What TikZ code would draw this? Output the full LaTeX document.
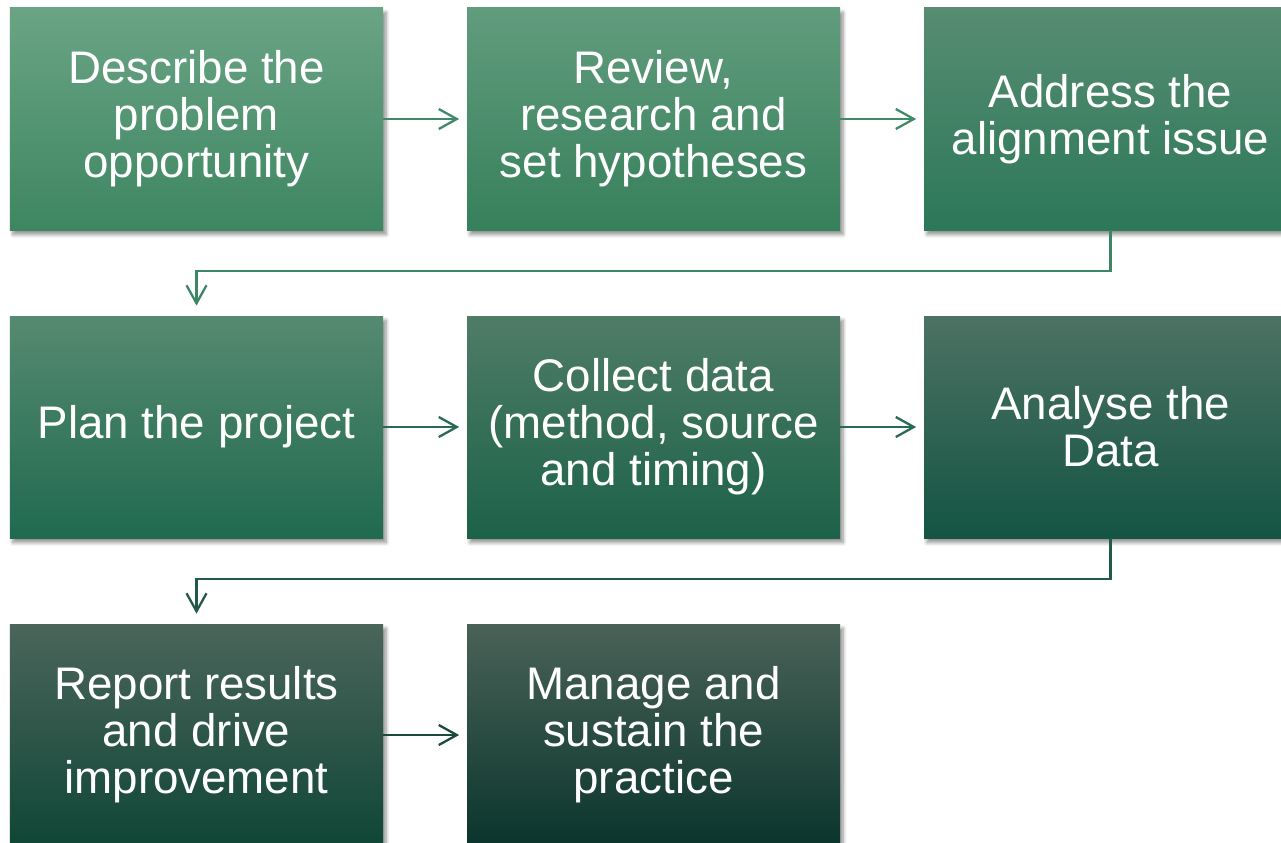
\documentclass[tikz,border=0pt]{standalone}
\usepackage{fontspec}
\setmainfont{Liberation Sans}
\usetikzlibrary{arrows.meta,shadows.blur}

\definecolor{lineA}{HTML}{3F8A68}
\definecolor{lineB}{HTML}{2A6A52}
\definecolor{lineC}{HTML}{1A4A3C}

\tikzset{
	stepbox/.style n args={3}{rectangle, minimum width=7.46cm, minimum height=4.44cm,
		inner sep=0pt, align=center, text=white, font=\fontsize{26}{26.8}\selectfont,
		/utils/exec={\definecolor{boxtop}{HTML}{#1}\definecolor{boxmid}{HTML}{#2}\definecolor{boxbot}{HTML}{#3}},
		top color=boxtop, middle color=boxmid, bottom color=boxbot,
		blur shadow={shadow xshift=0.06cm, shadow yshift=-0.09cm, shadow opacity=45, shadow blur steps=6}},
	flow/.style={line width=1.3pt, -{Straight Barb[length=0.36cm,width=0.4cm]}, shorten >=0.15cm},
}

\begin{document}
\begin{tikzpicture}
	\useasboundingbox (0,0) rectangle (25.62,-16.86);
	% first row
	\node[stepbox={6AA485}{4F9271}{3E8662}] (A) at (3.93,-2.38) {Describe the\\problem\\opportunity};
	\node[stepbox={619C7D}{48896A}{37805C}] (B) at (13.07,-2.38) {Review,\\research and\\set hypotheses};
	\node[stepbox={578C72}{3B8063}{2C7858}] (C) at (22.21,-2.38) {Address the\\alignment issue};
	% second row
	\node[stepbox={558A70}{2E7559}{206A50}] (D) at (3.93,-8.54) {Plan the project};
	\node[stepbox={4F7C67}{256A50}{1C6249}] (E) at (13.07,-8.54) {Collect data\\(method, source\\and timing)};
	\node[stepbox={4C7263}{1C5C48}{145443}] (F) at (22.21,-8.54) {Analyse the\\Data};
	% third row
	\node[stepbox={4B655B}{134A3C}{0F4636}] (G) at (3.93,-14.70) {Report results\\and drive\\improvement};
	\node[stepbox={4A6258}{0D3B31}{0A352C}] (H) at (13.07,-14.70) {Manage and\\sustain the\\practice};

	\draw[flow,lineA] (A.east) -- (B.west);
	\draw[flow,lineA] (B.east) -- (C.west);
	\draw[flow,lineA!85!lineB,shorten >=0.2cm] (C.south) -- ++(0,-0.82) -| (D.north);
	\draw[flow,lineB] (D.east) -- (E.west);
	\draw[flow,lineB] (E.east) -- (F.west);
	\draw[flow,lineB!50!lineC,shorten >=0.2cm] (F.south) -- ++(0,-0.82) -| (G.north);
	\draw[flow,lineC] (G.east) -- (H.west);
\end{tikzpicture}
\end{document}
